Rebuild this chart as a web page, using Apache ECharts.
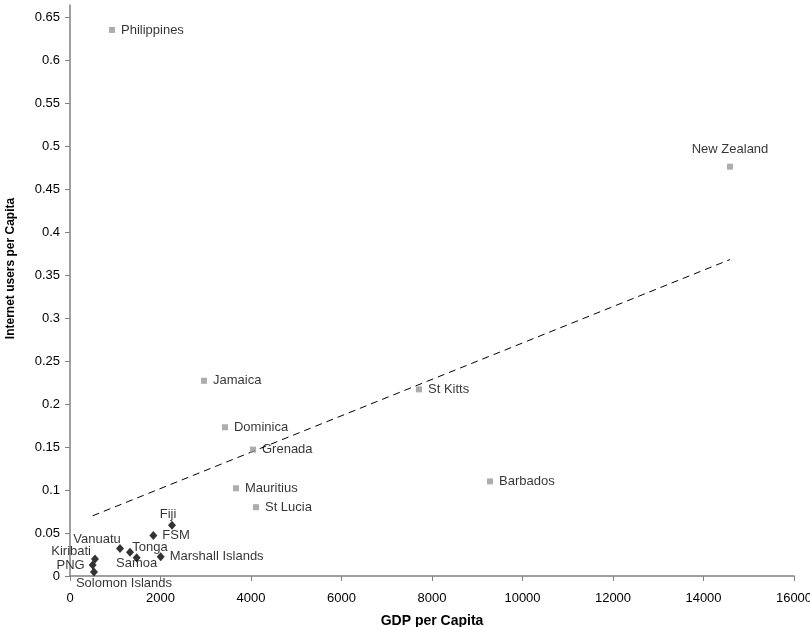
<!DOCTYPE html>
<html><head><meta charset="utf-8">
<script src="https://cdn.jsdelivr.net/npm/echarts@6/dist/echarts.min.js"></script>
<style>html,body{margin:0;padding:0;background:#fff}#c{width:810px;height:627px}</style>
</head><body><div id="c"></div>
<script>
// Non-Pacific countries (grey squares)
const otherNames = ['Philippines','New Zealand','Jamaica','Dominica','Grenada','Mauritius','St Lucia','St Kitts','Barbados'];
const otherGdp = [928, 14586, 2961, 3425, 4044, 3668, 4110, 7713, 9282];
const otherUsers = [0.635, 0.476, 0.227, 0.173, 0.147, 0.102, 0.080, 0.217, 0.110];
// Pacific countries (black diamonds)
const pacNames = ['Fiji','FSM','Vanuatu','Tonga','Samoa','Marshall Islands','Kiribati','PNG','Solomon Islands'];
const pacGdp = [2254, 1842, 1105, 1326, 1473, 2004, 552, 501, 530];
const pacUsers = [0.059, 0.047, 0.032, 0.0276, 0.0213, 0.0225, 0.0198, 0.0128, 0.0047];
// Linear trendline end points
const trendGdp = [501, 14586];
const trendUsers = [0.070, 0.368];
// Axis ticks
const yTicks = [0,0.05,0.1,0.15,0.2,0.25,0.3,0.35,0.4,0.45,0.5,0.55,0.6,0.65];

const labelStyle = {
  'New Zealand': {position:'top', distance:8},
  'Fiji': {position:'top', distance:0, offset:[-4,0]},
  'Vanuatu': {position:'top', distance:-2, offset:[-23,0]},
  'Tonga': {position:'top', distance:-6, offset:[20,0]},
  'Samoa': {position:'bottom', distance:-5, offset:[0,0]},
  'Kiribati': {position:'left', distance:0, offset:[0,-8]},
  'PNG': {position:'left', distance:4},
  'Solomon Islands': {position:'bottom', distance:0, offset:[30,0]},
  'Marshall Islands': {position:'right', distance:5},
  'FSM': {position:'right', distance:5}
};
function pts(names, xs, ys){
  return names.map((n,i)=>{
    const ls = labelStyle[n] || {position:'right', distance:6};
    return {name:n, value:[xs[i], ys[i]], label:Object.assign({show:true, formatter:n}, ls)};
  });
}
const font = 'Liberation Sans, Arial, sans-serif';
const chart = echarts.init(document.getElementById('c'));
chart.setOption({
  animation:false,
  grid:{left:70, right:16, top:5, bottom:51, containLabel:false, outerBoundsMode:'none'},
  xAxis:{type:'value', min:0, max:16000, interval:2000,
    name:'GDP per Capita', nameLocation:'middle', nameGap:38,
    nameTextStyle:{fontFamily:font, fontWeight:'bold', fontSize:14, color:'#000'},
    axisLine:{show:true, onZero:false, lineStyle:{color:'#808080', width:1.5}},
    axisTick:{show:true, inside:false, length:5, lineStyle:{color:'#808080'}},
    axisLabel:{fontFamily:font, fontSize:13, color:'#000', margin:16, formatter:v=>String(v)},
    splitLine:{show:false}},
  yAxis:{type:'value', min:0, max:0.664,
    name:'Internet users per Capita', nameLocation:'middle', nameGap:53,
    nameTextStyle:{fontFamily:font, fontWeight:'bold', fontSize:12, color:'#000', padding:[0,0,0,44]},
    axisLine:{show:true, onZero:false, lineStyle:{color:'#808080', width:1.5}},
    axisTick:{show:true, length:5, customValues:yTicks, lineStyle:{color:'#808080'}},
    axisLabel:{fontFamily:font, fontSize:13, color:'#000', margin:10, customValues:yTicks,
      formatter:v=>String(+v.toFixed(2))},
    splitLine:{show:false}},
  series:[
    {type:'line', data:trendGdp.map((x,i)=>[x,trendUsers[i]]), symbol:'none', silent:true,
      lineStyle:{color:'#000', width:1, type:[7,5]}, z:1},
    {type:'scatter', data:pts(otherNames, otherGdp, otherUsers), symbol:'rect', symbolSize:6,
      itemStyle:{color:'#999999'},
      label:{fontFamily:font, fontSize:13, color:'#000'}, z:3},
    {type:'scatter', data:pts(pacNames, pacGdp, pacUsers), symbol:'diamond', symbolSize:[8,9],
      itemStyle:{color:'#000'},
      label:{fontFamily:font, fontSize:13, color:'#000'}, z:3}
  ]
});
</script></body></html>
